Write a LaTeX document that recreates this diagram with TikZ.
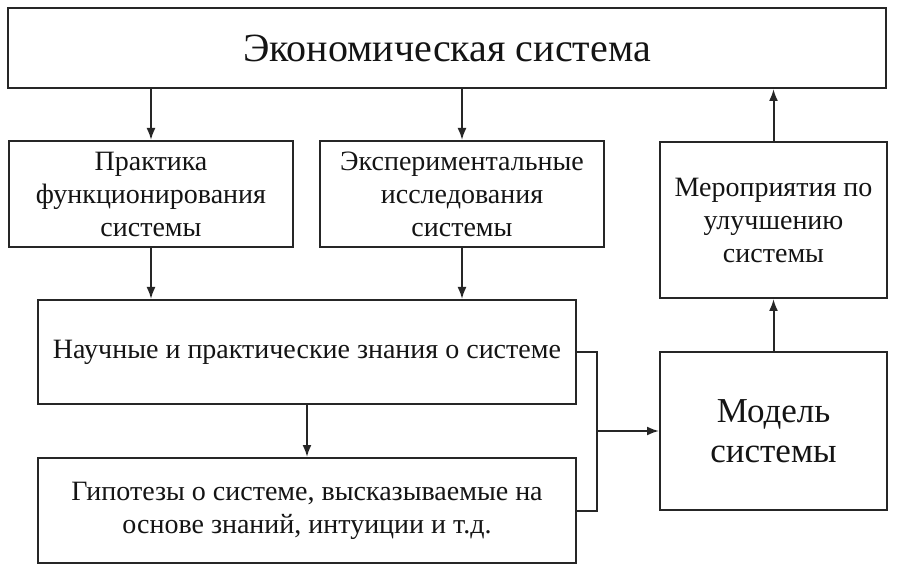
\documentclass[tikz,border=0pt]{standalone}
\usepackage{fontspec}
\setmainfont{Liberation Serif}
\usetikzlibrary{arrows.meta,calc}
\begin{document}
\begin{tikzpicture}[x=1pt,y=-1pt,
  box/.style={draw=black!85,line width=2pt,fill=white,inner sep=0pt,align=center,
    text=black!92,font=\fontsize{28}{33}\selectfont},
  conn/.style={draw=black!85,line width=2pt},
  arr/.style={conn,-{Latex[length=12pt,width=9pt]}}]
\useasboundingbox[fill=white] (0,0) rectangle (897,569);
\node[box,minimum width=878,minimum height=80,font=\fontsize{40}{46}\selectfont] (top) at (447,48) {Экономическая система};
\node[box,minimum width=284,minimum height=106] (b1) at (151,194) {Практика\\функционирования\\системы};
\node[box,minimum width=284,minimum height=106] (b2) at (462,194) {Экспериментальные\\исследования\\системы};
\node[box,minimum width=227,minimum height=156] (b3) at (773.5,220) {Мероприятия по\\улучшению\\системы};
\node[box,minimum width=538,minimum height=104] (b4) at (307,352) {Научные и практические знания о системе};
\node[box,minimum width=538,minimum height=105] (b5) at (307,510.5) {Гипотезы о системе, высказываемые на\\основе знаний, интуиции и т.д.};
\node[box,minimum width=227,minimum height=158,font=\fontsize{35}{40}\selectfont] (m) at (773.5,431) {Модель\\системы};
\draw[arr] (top.south -| b1.north) -- (b1.north);
\draw[arr] (top.south -| b2.north) -- (b2.north);
\draw[arr] (b3.north) -- (b3.north |- top.south);
\draw[arr] (b1.south) -- (b1.south |- b4.north);
\draw[arr] (b2.south) -- (b2.south |- b4.north);
\draw[arr] (b4.south) -- (b5.north);
\draw[arr] (m.north) -- (b3.south);
\coordinate (jt) at ($(b4.east)+(20,0)$);
\coordinate (jb) at ($(b5.east)+(20,0)$);
\draw[conn] (b4.east) -- (jt) -- (jb) -- (b5.east);
\draw[arr] (jt |- m.west) -- (m.west);
\end{tikzpicture}
\end{document}
